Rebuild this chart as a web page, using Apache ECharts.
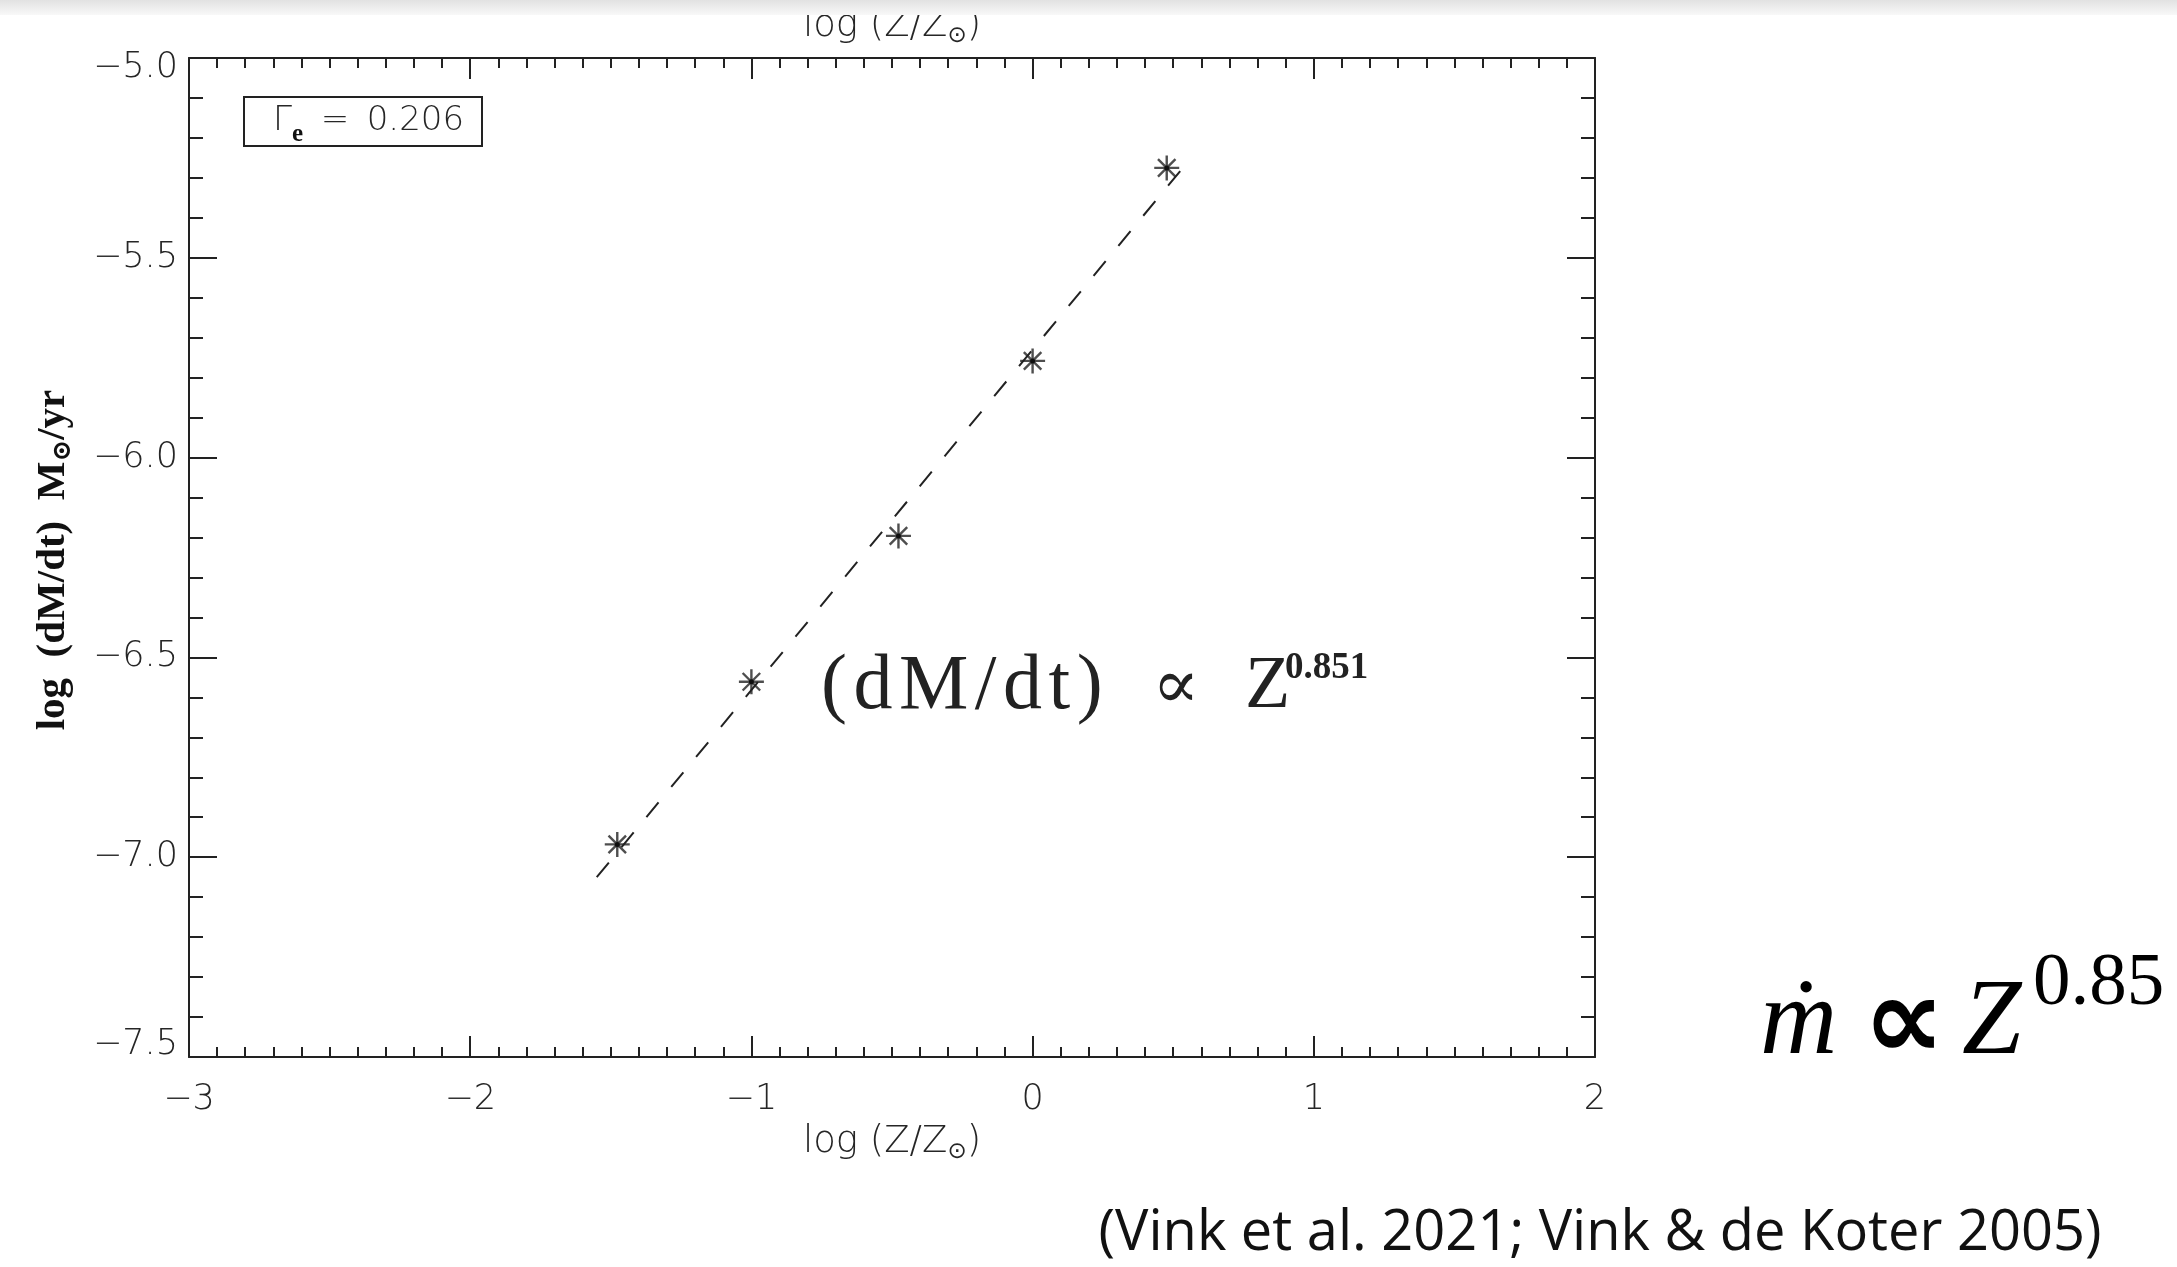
<!DOCTYPE html>
<html><head><meta charset="utf-8">
<script src="https://cdn.jsdelivr.net/npm/echarts@6/dist/echarts.min.js"></script>
<style>html,body{margin:0;padding:0;background:#fff}#c{width:2177px;height:1267px}</style>
</head><body><div id="c"></div>
<script>
// ---- data ----
const xLogZ = [-1.477, -1.0, -0.477, 0.0, 0.477];
const yLogMdot = [-6.968, -6.561, -6.196, -5.758, -5.275];
const fitX = [-1.55, 0.54];
const fitY = [-7.05, -5.27];
const xRange = [-3, 2];
const yRange = [-7.5, -5.0];
const gammaE = '0.206';
const fitExponent = '0.851';
const headlineExponent = '0.85';
const citation = '(Vink et al. 2021; Vink & de Koter 2005)';

const SANS = '"DejaVu Sans", "Liberation Sans", sans-serif';
const SERIF = '"Liberation Serif", "DejaVu Serif", serif';
const INK = '#222';
const LBL = '#262626';
const fmtY = v => {
  const s = (v < 0 ? '\u2212' : '') + Math.abs(v).toFixed(1);
  if (v === yRange[1]) return '{hi|' + s + '}';
  if (v === yRange[0]) return '{lo|' + s + '}';
  return '{n|' + s + '}';
};
const fmtX = v => (v < 0 ? '\u2212' : '') + Math.abs(v);

const chart = echarts.init(document.getElementById('c'), null, {renderer: 'canvas'});

const axisBase = {
  axisLine: {show: true, onZero: false, lineStyle: {color: INK, width: 2}},
  splitLine: {show: false},
  minorSplitLine: {show: false}
};
const xAxisCommon = Object.assign({}, axisBase, {
  type: 'value', min: xRange[0], max: xRange[1], interval: 1,
  axisTick: {show: true, inside: true, length: 21, lineStyle: {color: INK, width: 2}},
  minorTick: {show: true, splitNumber: 10, length: 10, lineStyle: {color: INK, width: 2}}
});
const yAxisCommon = Object.assign({}, axisBase, {
  type: 'value', min: yRange[0], max: yRange[1], interval: 0.5,
  axisTick: {show: true, inside: true, length: 28, lineStyle: {color: INK, width: 2}},
  minorTick: {show: true, splitNumber: 5, length: 14, lineStyle: {color: INK, width: 2}}
});
const lblStyle = {fontSize: 35, fontFamily: SANS, fontWeight: 200, color: LBL};

const option = {
  backgroundColor: '#fff',
  animation: false,
  grid: {left: 189, right: 582, top: 58, bottom: 210, containLabel: false},
  xAxis: [
    Object.assign({}, xAxisCommon, {position: 'bottom',
      axisLabel: Object.assign({show: true, formatter: fmtX, margin: 25}, lblStyle)}),
    Object.assign({}, xAxisCommon, {position: 'top', axisLabel: {show: false}})
  ],
  yAxis: [
    Object.assign({}, yAxisCommon, {position: 'left',
      axisLabel: Object.assign({show: true, formatter: fmtY, margin: 11,
        rich: {
          n: lblStyle,
          hi: Object.assign({padding: [20, 0, 0, 0]}, lblStyle),
          lo: Object.assign({padding: [0, 0, 24, 0]}, lblStyle)
        }}, lblStyle)}),
    Object.assign({}, yAxisCommon, {position: 'right', axisLabel: {show: false}})
  ],
  series: [
    {
      type: 'line', xAxisIndex: 0, yAxisIndex: 0,
      data: fitX.map((x, i) => [x, fitY[i]]),
      showSymbol: false, symbol: 'none',
      lineStyle: {color: INK, width: 2, type: [19, 20]},
      z: 2
    },
    {
      type: 'scatter', xAxisIndex: 0, yAxisIndex: 0,
      data: xLogZ.map((x, i) => [x, yLogMdot[i]]),
      symbol: 'path://M0,10L20,10M10,0L10,20M3,3L17,17M17,3L3,17',
      symbolSize: 25,
      itemStyle: {color: 'rgba(0,0,0,0)', borderColor: INK, borderWidth: 2.4},
      z: 3
    },
    {
      type: 'scatter', xAxisIndex: 0, yAxisIndex: 0,
      data: xLogZ.map((x, i) => [x, yLogMdot[i]]),
      symbol: 'circle', symbolSize: 5,
      itemStyle: {color: '#000'},
      z: 4
    }
  ],
  graphic: [
    // gamma box
    {type: 'rect', shape: {x: 244, y: 97, width: 238, height: 49},
     style: {fill: '#fff', stroke: INK, lineWidth: 2}, z: 10},
    {type: 'text', x: 273, y: 121, z: 11,
     style: {text: '{g|\u0393}{e|e}{t| \u2009= \u2009' + gammaE + '}', align: 'left', verticalAlign: 'middle',
       rich: {
         g: {fontSize: 34, fontFamily: SANS, fontWeight: 200, fill: LBL, lineHeight: 40, verticalAlign: 'middle'},
         e: {fontSize: 25, fontFamily: SERIF, fontWeight: 'bold', fill: '#111', lineHeight: 20, verticalAlign: 'bottom', padding: [0, 0, -6, 0]},
         t: {fontSize: 34, fontFamily: SANS, fontWeight: 200, fill: LBL, lineHeight: 40, verticalAlign: 'middle'}
       }}},
    // fit annotation
    {type: 'text', x: 821, y: 688, z: 11,
     style: {text: '(\u200Ad\u200AM\u200A/\u200Ad\u200At\u200A)', fontSize: 78, fontFamily: SERIF, fill: '#222', align: 'left', verticalAlign: 'middle'}},
    {type: 'text', x: 1176, y: 690, z: 11,
     style: {text: '\u221D', fontSize: 70, fontFamily: '"DejaVu Serif", serif', fontWeight: 200, fill: '#222', align: 'center', verticalAlign: 'middle'}},
    {type: 'text', x: 1245, y: 688, z: 11,
     style: {text: 'Z', fontSize: 74, fontFamily: SERIF, fill: '#222', align: 'left', verticalAlign: 'middle'}},
    {type: 'text', x: 1285, y: 668, z: 11,
     style: {text: fitExponent, fontSize: 37, fontFamily: SERIF, fontWeight: 'bold', fill: '#222', align: 'left', verticalAlign: 'middle'}},
    // axis titles
    {type: 'text', x: 892, y: 1142, z: 11,
     style: {text: '{a|log (Z/Z}{s|\u2299}{a|)}', align: 'center', verticalAlign: 'middle',
       rich: {a: {fontSize: 37, fontFamily: SANS, fontWeight: 200, fill: LBL, lineHeight: 44},
              s: {fontSize: 23, fontFamily: SANS, fill: LBL, lineHeight: 23, verticalAlign: 'bottom'}}}},
    {type: 'text', x: 892, y: 26, z: 11,
     style: {text: '{a|log (Z/Z}{s|\u2299}{a|)}', align: 'center', verticalAlign: 'middle',
       rich: {a: {fontSize: 37, fontFamily: SANS, fontWeight: 200, fill: LBL, lineHeight: 44},
              s: {fontSize: 23, fontFamily: SANS, fill: LBL, lineHeight: 23, verticalAlign: 'bottom'}}}},
    {type: 'text', x: 53, y: 560, rotation: Math.PI / 2, z: 11,
     style: {text: '{b|log  (dM/dt)  M}{s|\u2299}{b|/yr}', align: 'center', verticalAlign: 'middle',
       rich: {b: {fontSize: 41, fontFamily: SERIF, fontWeight: 'bold', fill: '#111', lineHeight: 46},
              s: {fontSize: 26, fontFamily: SERIF, fontWeight: 'bold', fill: '#111', lineHeight: 25, verticalAlign: 'bottom'}}}},
    // headline formula
    {type: 'text', x: 1760, y: 1078, z: 11,
     style: {text: '\u1E41', fontSize: 107, fontFamily: SERIF, fontStyle: 'italic', fill: '#000', align: 'left', verticalAlign: 'bottom'}},
    {type: 'text', x: 1904, y: 1086, z: 11,
     style: {text: '\u221D', fontSize: 115, fontFamily: '"DejaVu Sans", sans-serif', fontWeight: 'bold', fill: '#000', align: 'center', verticalAlign: 'bottom'}},
    {type: 'text', x: 1962, y: 1078, z: 11,
     style: {text: 'Z', fontSize: 107, fontFamily: SERIF, fontStyle: 'italic', fill: '#000', align: 'left', verticalAlign: 'bottom'}},
    {type: 'text', x: 2033, y: 1022, z: 11,
     style: {text: headlineExponent, fontSize: 75, fontFamily: SERIF, fill: '#000', align: 'left', verticalAlign: 'bottom'}},
    // citation
    {type: 'text', x: 1600, y: 1234, z: 11,
     style: {text: citation, fontSize: 56, fontFamily: '"Open Sans", "Noto Sans", sans-serif', fill: '#111', align: 'center', verticalAlign: 'middle'}},
    // top shadow band
    {type: 'rect', shape: {x: 0, y: 0, width: 2177, height: 15}, z: 20,
     style: {fill: new echarts.graphic.LinearGradient(0, 0, 0, 1, [
       {offset: 0, color: '#e2e2e2'}, {offset: 1, color: '#f8f8f8'}])}}
  ]
};
chart.setOption(option);
</script>
</body></html>
